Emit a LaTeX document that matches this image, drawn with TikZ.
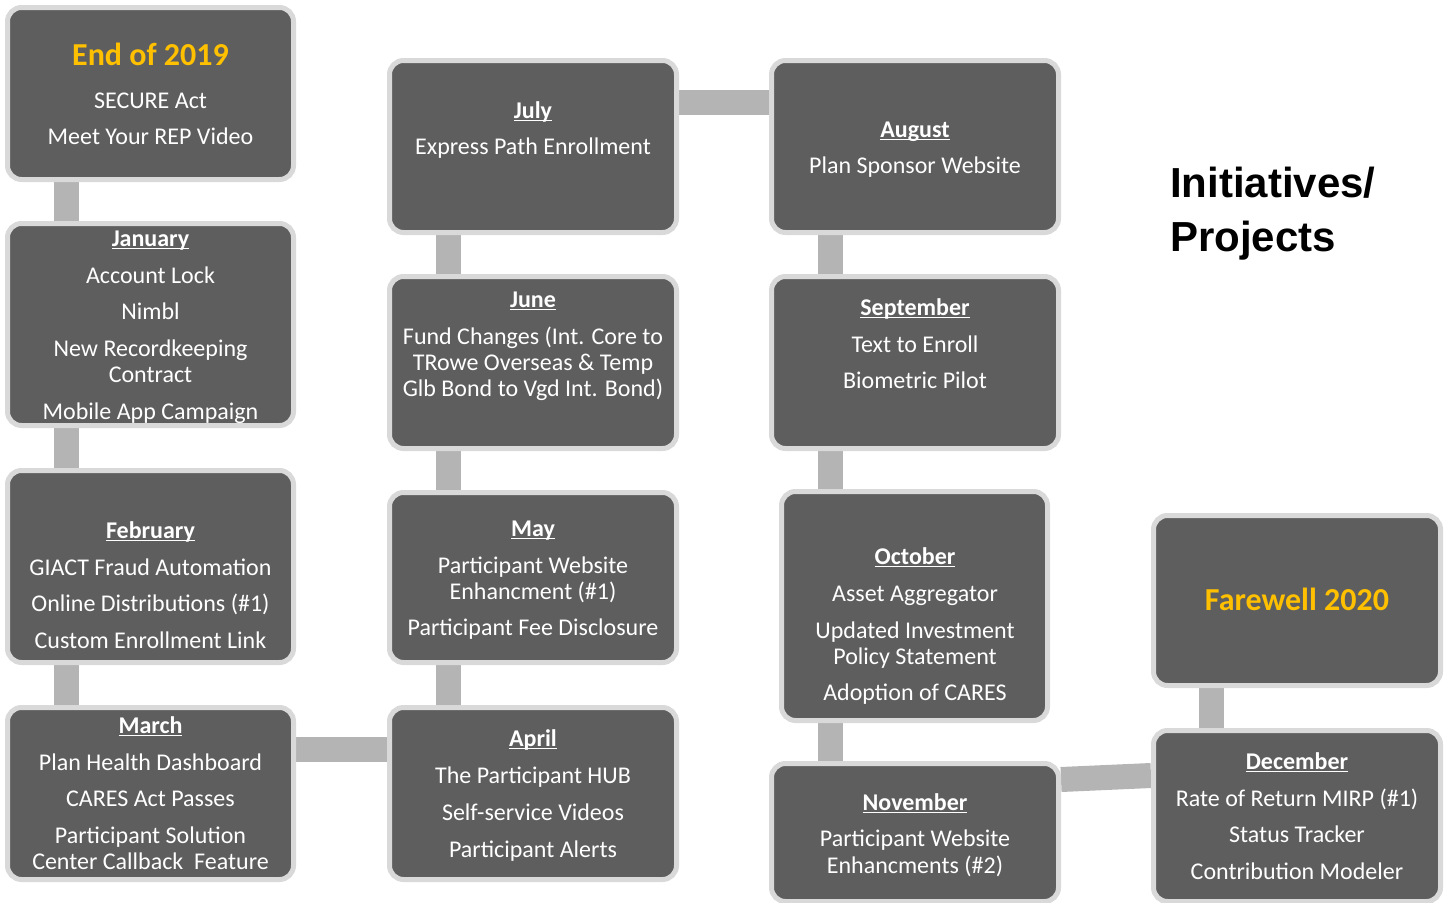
\documentclass[tikz,border=0pt]{standalone}
\usepackage{fontspec}
\setmainfont{Carlito}
\newfontfamily\headfont{Liberation Sans}
\definecolor{boxgrey}{HTML}{5E5E5E}
\definecolor{rimgrey}{HTML}{D9D9D9}
\definecolor{linkgrey}{HTML}{B4B4B4}
\definecolor{gold}{HTML}{FFC000}
\pgfdeclarelayer{background}
\pgfsetlayers{background,main}
% underlined month heading with a fixed rule below the baseline
\newcommand\monthhead[1]{\setbox0\hbox{\bfseries #1}\rlap{\rule[-3.4pt]{\wd0}{1.5pt}}\box0}
\tikzset{
  stepbox/.style={draw=rimgrey, line width=5pt, fill=boxgrey, rounded corners=14pt, inner sep=0pt},
  link/.style={draw=linkgrey, line width=25pt},
  itemtext/.style={anchor=base, inner sep=0pt, text=white, font=\fontsize{24}{26}\selectfont},
  yeartext/.style={anchor=base, inner sep=0pt, text=gold, font=\fontsize{32}{36}\selectfont\bfseries},
  titletext/.style={anchor=base west, inner sep=0pt, text=black, font=\headfont\fontsize{42}{48}\selectfont\bfseries},
}
\begin{document}
\begin{tikzpicture}[x=1pt, y=-1pt]
\useasboundingbox (0,0) rectangle (1450,902);

% ---- boxes ----
\node[stepbox, minimum width=286, minimum height=172] (e19) at (150.5,93.5) {};
\node[stepbox, minimum width=286, minimum height=202] (jan) at (150.5,324.5) {};
\node[stepbox, minimum width=286, minimum height=192] (feb) at (150.5,566.5) {};
\node[stepbox, minimum width=286, minimum height=172] (mar) at (150.5,793.5) {};

\node[stepbox, minimum width=287, minimum height=172] (jul) at (533,146.5) {};
\node[stepbox, minimum width=287, minimum height=172] (jun) at (533,362.5) {};
\node[stepbox, minimum width=287, minimum height=170] (may) at (533,577.5) {};
\node[stepbox, minimum width=287, minimum height=172] (apr) at (533,793.5) {};

\node[stepbox, minimum width=287, minimum height=172] (aug) at (915,146.5) {};
\node[stepbox, minimum width=287, minimum height=172] (sep) at (915,362.5) {};
\node[stepbox, minimum width=266, minimum height=229] (oct) at (914.5,606) {};
\node[stepbox, minimum width=287, minimum height=138] (nov) at (915,832.5) {};

\node[stepbox, minimum width=287, minimum height=170] (fw)  at (1297,600.5) {};
\node[stepbox, minimum width=287, minimum height=171] (dec) at (1297,816) {};

% ---- connectors ----
\begin{pgfonlayer}{background}
\draw[link] ([xshift=-84.5]e19.south) -- ([xshift=-84.5]jan.north);
\draw[link] ([xshift=-84.5]jan.south) -- ([xshift=-84.5]feb.north);
\draw[link] ([xshift=-84.5]feb.south) -- ([xshift=-84.5]mar.north);
\draw[link] ([yshift=44]mar.east) -- ([yshift=44]apr.west);
\draw[link] ([xshift=-85]apr.north) -- ([xshift=-85]may.south);
\draw[link] ([xshift=-85]may.north) -- ([xshift=-85]jun.south);
\draw[link] ([xshift=-85]jun.north) -- ([xshift=-85]jul.south);
\draw[link] ([yshift=44]jul.east) -- ([yshift=44]aug.west);
\draw[link] ([xshift=-85]aug.south) -- ([xshift=-85]sep.north);
\draw[link] ([xshift=-85]sep.south) -- ([xshift=-85]sep.south |- oct.north);
\draw[link] ([xshift=-85]nov.north |- oct.south) -- ([xshift=-85]nov.north);
\draw[link] ([yshift=53]nov.east) -- ([yshift=40.5]dec.west);
\draw[link] ([xshift=-85.5]fw.south) -- ([xshift=-85.5]dec.north);
\end{pgfonlayer}

% ---- texts ----
\node[yeartext] (e19a) at (150.5,65) {End of 2019};
\node[itemtext] (e19b) at (150.5,108) {SECURE Act};
\node[itemtext] (e19c) at (150.5,144) {Meet Your REP Video};

\node[itemtext] (jana) at (150.5,246) {\monthhead{January}};
\node[itemtext] (janb) at (150.5,283) {Account Lock};
\node[itemtext] (janc) at (150.5,319) {Nimbl};
\node[itemtext] (jand) at (150.5,356) {New Recordkeeping};
\node[itemtext] (jane) at (150.5,382) {Contract};
\node[itemtext] (janf) at (150.5,419) {Mobile App Campaign};

\node[itemtext] (feba) at (150.5,538) {\monthhead{February}};
\node[itemtext] (febb) at (150.5,575) {GIACT Fraud Automation};
\node[itemtext] (febc) at (150.5,611) {Online Distributions (\#1)};
\node[itemtext] (febd) at (150.5,648) {Custom Enrollment Link};

\node[itemtext] (mara) at (150.5,733) {\monthhead{March}};
\node[itemtext] (marb) at (150.5,770) {Plan Health Dashboard};
\node[itemtext] (marc) at (150.5,806) {CARES Act Passes};
\node[itemtext] (mard) at (150.5,843) {Participant Solution};
\node[itemtext] (mare) at (150.5,869) {Center Callback~~Feature};

\node[itemtext] (jula) at (533,118) {\monthhead{July}};
\node[itemtext] (julb) at (533,154) {Express Path Enrollment};

\node[itemtext] (juna) at (533,307) {\monthhead{June}};
\node[itemtext] (junb) at (533,344) {Fund Changes (Int. Core to};
\node[itemtext] (junc) at (533,370) {TRowe Overseas \& Temp};
\node[itemtext] (jund) at (533,396) {Glb Bond to Vgd Int. Bond)};

\node[itemtext] (maya) at (533,536) {\monthhead{May}};
\node[itemtext] (mayb) at (533,573) {Participant Website};
\node[itemtext] (mayc) at (533,599) {Enhancment (\#1)};
\node[itemtext] (mayd) at (533,635) {Participant Fee Disclosure};

\node[itemtext] (apra) at (533,746) {\monthhead{April}};
\node[itemtext] (aprb) at (533,783) {The Participant HUB};
\node[itemtext] (aprc) at (533,820) {Self-service Videos};
\node[itemtext] (aprd) at (533,857) {Participant Alerts};

\node[itemtext] (auga) at (915,137) {\monthhead{August}};
\node[itemtext] (augb) at (915,173) {Plan Sponsor Website};

\node[itemtext] (sepa) at (915,315) {\monthhead{September}};
\node[itemtext] (sepb) at (915,352) {Text to Enroll};
\node[itemtext] (sepc) at (915,388) {Biometric Pilot};

\node[itemtext] (octa) at (915,564) {\monthhead{October}};
\node[itemtext] (octb) at (915,601) {Asset Aggregator};
\node[itemtext] (octc) at (915,638) {Updated Investment};
\node[itemtext] (octd) at (915,664) {Policy Statement};
\node[itemtext] (octe) at (915,700) {Adoption of CARES};

\node[itemtext] (nova) at (915,810) {\monthhead{November}};
\node[itemtext] (novb) at (915,846) {Participant Website};
\node[itemtext] (novc) at (915,873) {Enhancments (\#2)};

\node[yeartext] (fwa) at (1297,610) {Farewell 2020};

\node[itemtext] (deca) at (1297,769) {\monthhead{December}};
\node[itemtext] (decb) at (1297,806) {Rate of Return MIRP (\#1)};
\node[itemtext] (decc) at (1297,842) {Status Tracker};
\node[itemtext] (decd) at (1297,879) {Contribution Modeler};

% ---- heading ----
\node[titletext] (ttla) at (1170,197) {Initiatives/};
\node[titletext] (ttlb) at (1170,251) {Projects};
\end{tikzpicture}
\end{document}
